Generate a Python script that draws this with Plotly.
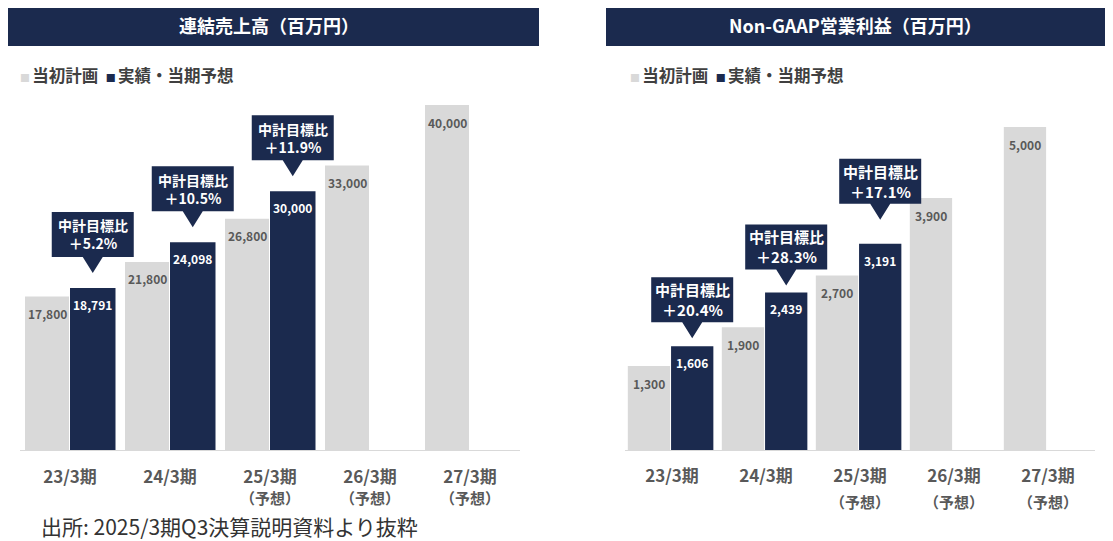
import plotly.graph_objects as go

# ---------------- data ----------------
categories = ["23/3期", "24/3期", "25/3期", "26/3期", "27/3期"]
category_notes = ["", "", "（予想）", "（予想）", "（予想）"]

sales_plan = [17800, 21800, 26800, 33000, 40000]
sales_actual = [18791, 24098, 30000, None, None]
sales_vs_target = ["＋5.2%", "＋10.5%", "＋11.9%"]

profit_plan = [1300, 1900, 2700, 3900, 5000]
profit_actual = [1606, 2439, 3191, None, None]
profit_vs_target = ["＋20.4%", "＋28.3%", "＋17.1%"]

titles = ["連結売上高（百万円）", "Non-GAAP営業利益（百万円）"]
legend_names = ["当初計画", "実績・当期予想"]
source_text = "出所: 2025/3期Q3決算説明資料より抜粋"

# ---------------- style ----------------
NAVY = "#1b2a4e"
GRAY = "#d9d9d9"
LABEL_GRAY = "#595959"
FONT = "Noto Sans CJK JP"
PAGE_OFF = 8                      # default body margin of the page
W, H = 1113 - PAGE_OFF, 541 - PAGE_OFF


def px(x):
    return (x - PAGE_OFF) / W


def py(y):
    return 1 - (y - PAGE_OFF) / H


xpos = list(range(len(categories)))

panels = [
    dict(plan=sales_plan, actual=sales_actual, vs=sales_vs_target,
         xa="x", ya="y", gaps=[15, 15, 15],
         gray_off=-0.45, gray_w=0.44, navy_off=0.0, navy_w=0.455,
         call_font=14, base_tick=16.5),
    dict(plan=profit_plan, actual=profit_actual, vs=profit_vs_target,
         xa="x2", ya="y2", gaps=[8, 7, 24],
         gray_off=-0.47, gray_w=0.45, navy_off=-0.01, navy_w=0.45,
         call_font=15, base_tick=20),
]


def make_ticktext():
    out = []
    for c, n in zip(categories, category_notes):
        t = f"<span style='font-size:17px'><b>{c}</b></span>"
        if n:
            t += f"<br><span style='font-size:15px'><b>{n}</b></span>"
        out.append(t)
    return out


ticktext = make_ticktext()

fig = go.Figure()
for p in panels:
    fig.add_trace(go.Bar(x=xpos, y=p["plan"], name=legend_names[0],
                         marker=dict(color=GRAY, line=dict(width=0)),
                         offset=p["gray_off"], width=p["gray_w"],
                         xaxis=p["xa"], yaxis=p["ya"], showlegend=False,
                         hoverinfo="y"))
    fig.add_trace(go.Bar(x=xpos, y=p["actual"], name=legend_names[1],
                         marker=dict(color=NAVY, line=dict(width=0)),
                         offset=p["navy_off"], width=p["navy_w"],
                         xaxis=p["xa"], yaxis=p["ya"], showlegend=False,
                         hoverinfo="y"))

annotations = []
shapes = []

for p in panels:
    gc = p["gray_off"] + p["gray_w"] / 2
    nc = p["navy_off"] + p["navy_w"] / 2
    # value labels
    for i, v in enumerate(p["plan"]):
        annotations.append(dict(x=i + gc, y=v, xref=p["xa"], yref=p["ya"],
                                text=f"<b>{v:,}</b>", showarrow=False,
                                yshift=-17, font=dict(size=12, color=LABEL_GRAY, family=FONT)))
    for i, v in enumerate(p["actual"]):
        if v is None:
            continue
        annotations.append(dict(x=i + nc, y=v, xref=p["xa"], yref=p["ya"],
                                text=f"<b>{v:,}</b>", showarrow=False,
                                yshift=-16.5, font=dict(size=12, color="white", family=FONT)))
    # callouts
    for i, (txt, gap) in enumerate(zip(p["vs"], p["gaps"])):
        v = p["actual"][i]
        tri_h, tri_w, bw, bh = 16, 10, 41, 45
        yb = gap + tri_h
        yt = yb + bh
        path = (f"M0,{gap} L{-tri_w},{yb} L{-bw},{yb} L{-bw},{yt} "
                f"L{bw},{yt} L{bw},{yb} L{tri_w},{yb} Z")
        shapes.append(dict(type="path", path=path, xsizemode="pixel", ysizemode="pixel",
                           xanchor=i + nc, yanchor=v, xref=p["xa"], yref=p["ya"],
                           fillcolor=NAVY, line=dict(width=0), layer="above"))
        annotations.append(dict(x=i + nc, y=v, xref=p["xa"], yref=p["ya"],
                                text=f"<b>中計目標比<br>{txt}</b>", showarrow=False,
                                yshift=yb + bh / 2,
                                font=dict(size=p["call_font"], color="white", family=FONT)))

# title bars
title_boxes = [(8, 539, 269), (606, 1113, 855)]
for (x0, x1, xc), t in zip(title_boxes, titles):
    shapes.append(dict(type="rect", xref="paper", yref="paper",
                       x0=max(px(x0), 0), x1=min(px(x1), 1), y0=py(46), y1=min(py(4), 1),
                       fillcolor=NAVY, line=dict(width=0), layer="below"))
    annotations.append(dict(x=px(xc), y=py(25), xref="paper", yref="paper",
                            text=f"<b>{t}</b>", showarrow=False,
                            xanchor="center", yanchor="middle",
                            font=dict(size=18, color="white", family=FONT)))

# legends
for lx in (18, 628):
    annotations.append(dict(
        x=px(lx), y=py(75), xref="paper", yref="paper", xanchor="left", yanchor="middle",
        showarrow=False,
        text=(f"<span style='color:{GRAY};font-size:10px'>■ </span>"
              f"<b>{legend_names[0]}</b>  "
              f"<span style='color:{NAVY};font-size:10px'>■ </span>"
              f"<b>{legend_names[1]}</b>"),
        font=dict(size=16.5, color="#404040", family=FONT)))

# source
annotations.append(dict(x=px(39), y=py(526), xref="paper", yref="paper",
                        xanchor="left", yanchor="middle", showarrow=False,
                        text=source_text, font=dict(size=21, color="#333333", family=FONT)))


def xaxis_def(p, domain, ticklen):
    return dict(domain=domain, anchor=p["ya"], tickmode="array", tickvals=xpos,
                ticktext=ticktext, range=[-0.5, 4.5], showgrid=False, zeroline=False,
                showline=True, linecolor=GRAY, linewidth=1,
                ticks="outside", tickcolor="rgba(0,0,0,0)", ticklen=ticklen,
                tickfont=dict(size=p["base_tick"], color=LABEL_GRAY, family=FONT),
                fixedrange=True)


yaxis_common = dict(showgrid=False, zeroline=False, showticklabels=False,
                    showline=False, fixedrange=True)

fig.update_layout(
    width=W, height=H,
    margin=dict(l=0, r=0, t=0, b=0),
    paper_bgcolor="white", plot_bgcolor="white",
    barmode="overlay",
    font=dict(family=FONT),
    xaxis=xaxis_def(panels[0], [px(20), px(520)], 12),
    xaxis2=xaxis_def(panels[1], [px(625), px(1095)], 7),
    yaxis=dict(domain=[py(450), py(90)], anchor="x",
               range=[0, 360 / 0.008625], **yaxis_common),
    yaxis2=dict(domain=[py(450), py(90)], anchor="x2",
                range=[0, 360 / 0.0646], **yaxis_common),
    annotations=annotations,
    shapes=shapes,
)

fig.write_html("out.html")
